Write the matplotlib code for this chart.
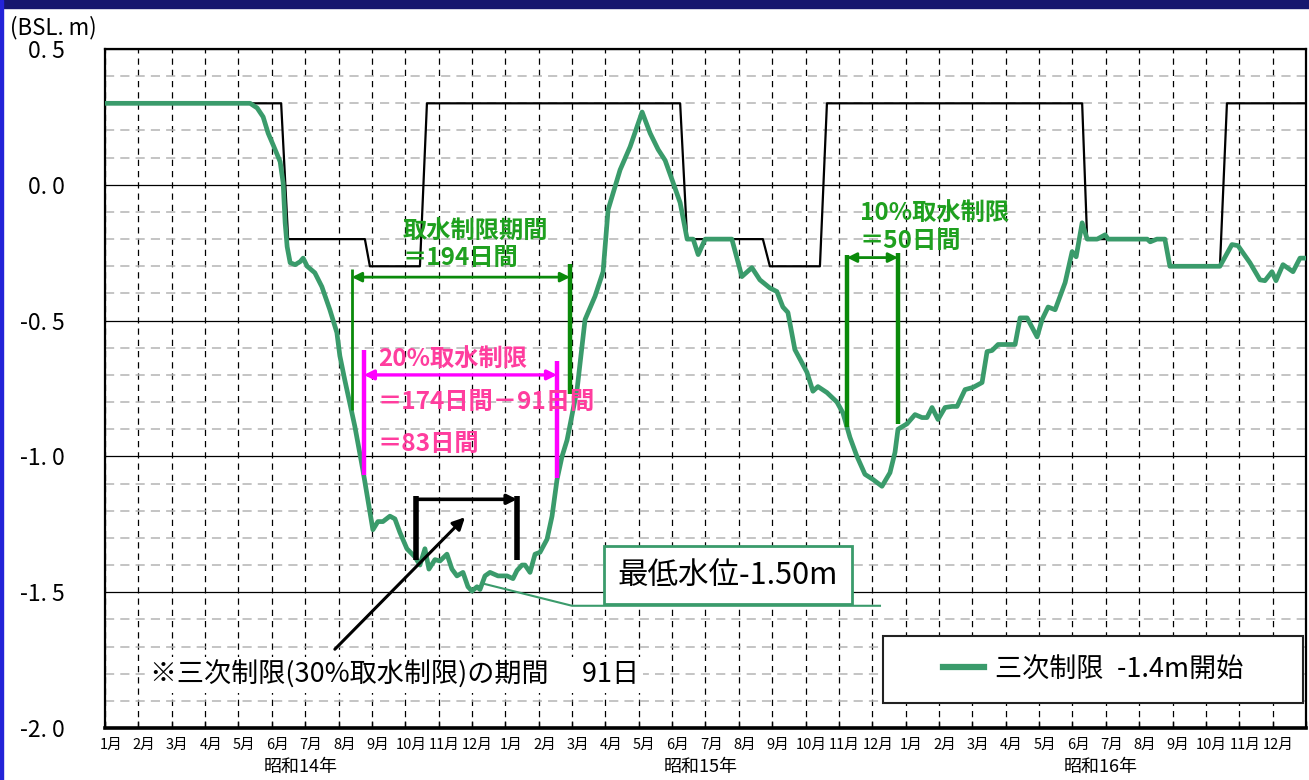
import numpy as np
import matplotlib
matplotlib.use("Agg")
import matplotlib.pyplot as plt
from matplotlib.patches import Rectangle
from matplotlib.lines import Line2D
import matplotlib.transforms as mtransforms

plt.rcParams['font.family'] = ['Noto Sans CJK JP', 'DejaVu Sans']

# 経過月 (0 = 昭和14年1月初め) と 水位 (BSL.m)
month = [0.00, 4.35, 4.56, 4.74, 4.89, 5.04, 5.25, 5.34, 5.40, 5.46, 5.55, 5.70,
         5.85, 5.94, 6.06, 6.29, 6.50, 6.74, 6.95, 7.04, 7.19, 7.49, 7.73, 7.88,
         8.03, 8.18, 8.33, 8.54, 8.69, 8.84, 9.05, 9.29, 9.44, 9.59, 9.71, 9.89,
         10.04, 10.25, 10.40, 10.55, 10.73, 10.88, 11.00, 11.15, 11.24, 11.39, 11.54, 11.78,
         12.05, 12.23, 12.35, 12.50, 12.59, 12.74, 12.89, 13.04, 13.25, 13.40, 13.55, 13.70,
         13.85, 14.15, 14.39, 14.69, 14.93, 15.08, 15.44, 15.74, 16.10, 16.34, 16.58, 16.79,
         17.00, 17.24, 17.45, 17.63, 17.78, 17.99, 18.79, 19.09, 19.39, 19.63, 19.93, 20.14,
         20.32, 20.47, 20.68, 21.04, 21.22, 21.37, 21.64, 21.94, 22.12, 22.33, 22.54, 22.78,
         23.02, 23.29, 23.53, 23.68, 23.77, 24.04, 24.28, 24.49, 24.64, 24.79, 24.97, 25.18,
         25.39, 25.54, 25.78, 26.02, 26.29, 26.44, 26.59, 26.77, 27.28, 27.43, 27.64, 27.94,
         28.09, 28.27, 28.48, 28.63, 28.78, 28.99, 29.11, 29.29, 29.44, 29.74, 29.98, 30.07,
         31.24, 31.33, 31.53, 31.77, 31.92, 33.42, 33.78, 33.96, 34.32, 34.62, 34.77, 34.98,
         35.10, 35.31, 35.61, 35.82, 36.00]
level = [0.30, 0.30, 0.283, 0.25, 0.19, 0.147, 0.085, 0.007, -0.14, -0.228, -0.287, -0.294,
         -0.283, -0.27, -0.30, -0.324, -0.375, -0.46, -0.544, -0.63, -0.72, -0.89, -1.05, -1.16,
         -1.27, -1.24, -1.24, -1.22, -1.23, -1.28, -1.34, -1.37, -1.40, -1.34, -1.415, -1.38,
         -1.385, -1.36, -1.415, -1.44, -1.427, -1.48, -1.496, -1.48, -1.49, -1.44, -1.427, -1.44,
         -1.44, -1.45, -1.42, -1.40, -1.40, -1.427, -1.36, -1.353, -1.305, -1.22, -1.085, -1.0,
         -0.94, -0.754, -0.496, -0.41, -0.32, -0.092, 0.055, 0.14, 0.268, 0.19, 0.13, 0.09,
         0.018, -0.066, -0.2, -0.2, -0.257, -0.2, -0.2, -0.338, -0.305, -0.35, -0.38, -0.393,
         -0.45, -0.47, -0.607, -0.69, -0.76, -0.743, -0.765, -0.80, -0.84, -0.93, -1.0, -1.066,
         -1.085, -1.11, -1.06, -0.985, -0.90, -0.88, -0.846, -0.857, -0.857, -0.82, -0.864, -0.82,
         -0.816, -0.816, -0.754, -0.746, -0.728, -0.614, -0.61, -0.588, -0.588, -0.49, -0.49, -0.56,
         -0.496, -0.45, -0.46, -0.41, -0.36, -0.246, -0.265, -0.14, -0.2, -0.2, -0.184, -0.2,
         -0.2, -0.21, -0.2, -0.2, -0.30, -0.30, -0.22, -0.224, -0.287, -0.35, -0.353, -0.32,
         -0.353, -0.294, -0.32, -0.27, -0.27]

# 制限水位 (黒線)
rule_month = [0, 5.28, 5.49, 7.79, 7.94, 9.44, 9.65, 17.24, 17.45, 19.72, 19.93, 21.43, 21.64,
              29.29, 29.44, 31.77, 31.92, 33.42, 33.63, 36]
rule_level = [0.3, 0.3, -0.2, -0.2, -0.3, -0.3, 0.3, 0.3, -0.2, -0.2, -0.3, -0.3, 0.3,
              0.3, -0.2, -0.2, -0.3, -0.3, 0.3, 0.3]

month_labels = [f'{m}月' for m in range(1, 13)] * 3
year_labels = ['昭和14年', '昭和15年', '昭和16年']
ytick_values = [0.5, 0.0, -0.5, -1.0, -1.5, -2.0]
ytick_labels = ['0. 5', '0. 0', '-0. 5', '-1. 0', '-1. 5', '-2. 0']

# 制限期間 (月)
limit_period = [7.40, 13.94]      # 取水制限 194日
limit20_period = [7.76, 13.55]    # 20%取水制限
limit30_period = [9.32, 12.35]    # 三次制限 91日
limit10_period = [22.24, 23.77]   # 10%取水制限 50日

green = '#3a9b6b'
dgreen = '#0a8a0a'
tgreen = '#1fa01f'
magenta = '#ff00ff'
pink = '#ff3d9e'

fig = plt.figure(figsize=(13.09, 7.80), dpi=100)
ax = fig.add_axes([105 / 1309, 52 / 780, 1201 / 1309, 679 / 780])

# frame around the figure
fig.patches.append(Rectangle((0, 1 - 8 / 780), 1, 8 / 780, transform=fig.transFigure,
                             color='#16166e', zorder=0))
fig.patches.append(Rectangle((0, 0), 3 / 1309, 1, transform=fig.transFigure,
                             color='#2323d8', zorder=0))

ax.set_xlim(0, 36)
ax.set_ylim(-2.0, 0.5)
ax.set_axisbelow(True)

ax.set_xticks(np.arange(37))
ax.set_xticklabels([])
ax.set_xticks(np.arange(36) + 0.17, minor=True)
ax.set_xticklabels(month_labels, minor=True, fontsize=10.5)
ax.tick_params(axis='x', which='major', direction='in', length=5, width=1, color='black')
ax.tick_params(axis='x', which='minor', length=0, pad=7)

ax.set_yticks(ytick_values)
ax.set_yticklabels(ytick_labels, fontsize=16.5)
ax.set_yticks(np.arange(-2.0, 0.5, 0.1), minor=True)
ax.tick_params(axis='y', which='both', length=0, pad=29)

ax.xaxis.grid(True, which='major', color='black', linestyle=(0, (5, 4)), lw=0.9)
ax.yaxis.grid(True, which='major', color='black', linestyle='-', lw=0.9)
ax.yaxis.grid(True, which='minor', color='#b4b4b4', linestyle=(0, (6, 4)), lw=1.1)

for s in ['left', 'top', 'right']:
    ax.spines[s].set_linewidth(1.6)
ax.spines['bottom'].set_linewidth(2.6)

trans = mtransforms.blended_transform_factory(ax.transData, ax.transAxes)
for i, lab in enumerate(year_labels):
    ax.text(6 + 12 * i - 0.15, -0.058, lab, transform=trans, ha='center', va='center',
            fontsize=13)

fig.text(10 / 1309, 1 - 28 / 780, '(BSL. m)', fontsize=16, va='center', ha='left')

# curves
ax.plot(rule_month, rule_level, color='black', lw=1.6, zorder=3)
line, = ax.plot(month, level, color=green, lw=3.4, zorder=4)


def bracket(x0, x1, y_bar, y0a, y1a, y0b, y1b, color, lw_a, lw_b, lw_arrow, style='<|-|>'):
    ax.plot([x0, x0], [y0a, y1a], color=color, lw=lw_a, zorder=6, solid_capstyle='butt')
    ax.plot([x1, x1], [y0b, y1b], color=color, lw=lw_b, zorder=6, solid_capstyle='butt')
    ax.annotate('', xy=(x1, y_bar), xytext=(x0, y_bar),
                arrowprops=dict(arrowstyle=style, color=color, lw=lw_arrow,
                                mutation_scale=14, shrinkA=0, shrinkB=0), zorder=6)


tstyle = dict(fontsize=17.5, fontweight='bold', ha='left', va='center', zorder=7)

# 取水制限期間 194日
bracket(limit_period[0], limit_period[1], -0.34, -0.31, -0.83, -0.29, -0.77,
        dgreen, 2.0, 3.2, 2.0)
ax.text(8.93, -0.17, '取水制限期間', color=tgreen, **tstyle)
ax.text(8.93, -0.27, '＝194日間', color=tgreen, **tstyle)

# 20%取水制限
bracket(limit20_period[0], limit20_period[1], -0.70, -0.61, -1.07, -0.65, -1.08,
        magenta, 3.2, 3.2, 2.4)
ax.text(8.18, -0.64, '20%取水制限', color=pink, **tstyle)
ax.text(8.18, -0.80, '＝174日間－91日間', color=pink, **tstyle)
ax.text(8.18, -0.956, '＝83日間', color=pink, **tstyle)

# 三次制限 91日
bracket(limit30_period[0], limit30_period[1], -1.158, -1.147, -1.38, -1.147, -1.38,
        'black', 4.0, 4.0, 2.6, style='-|>')
ax.annotate('', xy=(10.79, -1.224), xytext=(6.89, -1.71),
            arrowprops=dict(arrowstyle='-|>', color='black', lw=2.2, mutation_scale=18,
                            shrinkA=0, shrinkB=0), zorder=6)
ax.text(1.35, -1.805, '※三次制限(30%取水制限)の期間\u3000 91日', fontsize=19.5,
        ha='left', va='center', zorder=7,
        bbox=dict(boxstyle='square,pad=0.15', fc='white', ec='none'))

# 最低水位
ax.plot([11.39, 14.0, 23.23], [-1.47, -1.55, -1.55], color=green, lw=1.5, zorder=5)
ax.text(18.68, -1.4375, '最低水位-1.50m', fontsize=22, ha='center', va='center', zorder=7,
        bbox=dict(boxstyle='square,pad=0.45', fc='white', ec=green, lw=2))

# 10%取水制限 50日
bracket(limit10_period[0], limit10_period[1], -0.268, -0.257, -0.893, -0.25, -0.882,
        dgreen, 3.2, 3.2, 2.0)
ax.text(22.63, -0.103, '10%取水制限', color=tgreen, **tstyle)
ax.text(22.63, -0.206, '＝50日間', color=tgreen, **tstyle)

# legend
ax.add_patch(Rectangle((0.648, 0.037), 0.3495, 0.0985, transform=ax.transAxes,
                       fc='white', ec='#222222', lw=1.5, zorder=8))
leg = ax.legend([Line2D([], [], color=green, lw=4.5)], ['三次制限\u2002-1.4m開始'],
                loc='center', bbox_to_anchor=(0.648 + 0.3495 / 2, 0.037 + 0.0985 / 2),
                frameon=False, fontsize=19.5, handlelength=1.5, handletextpad=0.4)
leg.set_zorder(9)

fig.savefig('out.png', dpi=100)
